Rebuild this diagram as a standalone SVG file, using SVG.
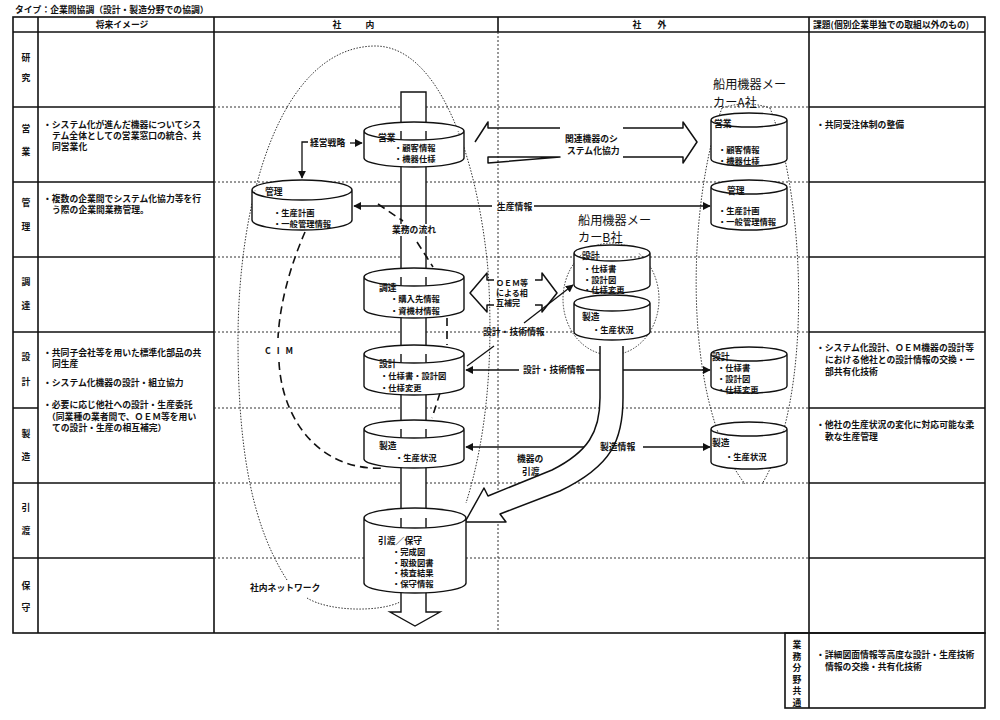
<svg xmlns="http://www.w3.org/2000/svg" width="1000" height="720" viewBox="0 0 1000 720">
<defs>
<style>
text{font-family:"Noto Sans CJK JP","Noto Sans CJK SC",sans-serif;font-size:8.8px;font-weight:bold;fill:#111}
.big{font-size:12.2px;font-weight:normal}
.sm{font-size:8px}
.cs{font-size:8.3px}
.mid{text-anchor:middle}
.frame{fill:none;stroke:#111;stroke-width:1.6}
.dot{fill:none;stroke:#333;stroke-width:1;stroke-dasharray:2 2}
.cyl{fill:#fff;stroke:#111;stroke-width:1.4}
.cim{fill:none;stroke:#111;stroke-width:1.6;stroke-dasharray:8 5}
.net{fill:none;stroke:#333;stroke-width:1;stroke-dasharray:1.5 1.5}
.line{fill:none;stroke:#111;stroke-width:1.3}
.hollow{fill:none;stroke:#111;stroke-width:1.5;stroke-linejoin:round}
</style>
<marker id="ah" viewBox="0 0 10 10" refX="9" refY="5" markerWidth="6" markerHeight="6" orient="auto-start-reverse"><path d="M0,0 L10,5 L0,10 z" fill="#111"/></marker>
</defs>
<rect width="1000" height="720" fill="#fff"/>

<g id="table">
<text x="15" y="13">タイプ：企業間協調（設計・製造分野での協調）</text>
<rect class="frame" x="13" y="17" width="972" height="616"/>
<line class="frame" x1="13" y1="32" x2="985" y2="32"/>
<line class="frame" x1="38" y1="17" x2="38" y2="633"/>
<line class="frame" x1="214" y1="17" x2="214" y2="633"/>
<line class="frame" x1="498" y1="17" x2="498" y2="32"/>
<line class="frame" x1="809" y1="17" x2="809" y2="633"/>
<line class="dot" x1="498" y1="32" x2="498" y2="633"/>
<path class="frame" d="M13,107H214M809,107H985M13,182H214M809,182H985M13,257H214M809,257H985M13,332H214M809,332H985M13,408H38M809,408H985M13,483H214M809,483H985M13,558H214M809,558H985"/>
<path class="dot" d="M214,107H809M214,182H809M214,257H809M214,332H809M214,408H809M214,483H809M214,558H809"/>
<rect class="frame" x="785" y="633" width="200" height="75"/>
<line class="frame" x1="809" y1="633" x2="809" y2="708"/>
<text x="122" y="28" class="mid">将来イメージ</text>
<text x="337" y="28" class="mid">社</text><text x="370" y="28" class="mid">内</text>
<text x="637" y="28" class="mid">社</text><text x="662" y="28" class="mid">外</text>
<text x="813" y="28">課題(個別企業単独での取組以外のもの)</text>
<g class="rowlabels">
<text x="26" y="61" class="mid">研</text><text x="26" y="81" class="mid">究</text>
<text x="26" y="132" class="mid">営</text><text x="26" y="155" class="mid">業</text>
<text x="26" y="206" class="mid">管</text><text x="26" y="230" class="mid">理</text>
<text x="26" y="285" class="mid">調</text><text x="26" y="309" class="mid">達</text>
<text x="26" y="360" class="mid">設</text><text x="26" y="385" class="mid">計</text>
<text x="26" y="437" class="mid">製</text><text x="26" y="460" class="mid">造</text>
<text x="26" y="511" class="mid">引</text><text x="26" y="534" class="mid">渡</text>
<text x="26" y="589" class="mid">保</text><text x="26" y="611" class="mid">守</text>
</g>
<g class="future">
<text x="43" y="128">・システム化が進んだ機器についてシス</text>
<text x="52" y="139">テム全体としての営業窓口の統合、共</text>
<text x="52" y="150">同営業化</text>
<text x="43" y="202">・複数の企業間でシステム化協力等を行</text>
<text x="52" y="213">う際の企業間業務管理。</text>
<text x="43" y="356">・共同子会社等を用いた標準化部品の共</text>
<text x="52" y="367">同生産</text>
<text x="43" y="386">・システム化機器の設計・組立協力</text>
<text x="43" y="408">・必要に応じ他社への設計・生産委託</text>
<text x="47" y="420">（同業種の業者間で、ＯＥＭ等を用い</text>
<text x="52" y="431">ての設計・生産の相互補完）</text>
</g>
<g class="issues">
<text x="816" y="128">・共同受注体制の整備</text>
<text x="816" y="351">・システム化設計、ＯＥＭ機器の設計等</text>
<text x="825" y="363">における他社との設計情報の交換・一</text>
<text x="825" y="375">部共有化技術</text>
<text x="816" y="428">・他社の生産状況の変化に対応可能な柔</text>
<text x="825" y="440">軟な生産管理</text>
<text x="797" y="648" class="mid">業</text><text x="797" y="659.5" class="mid">務</text><text x="797" y="671" class="mid">分</text>
<text x="797" y="682.5" class="mid">野</text><text x="797" y="694" class="mid">共</text><text x="797" y="705.5" class="mid">通</text>
<text x="816" y="658">・詳細図面情報等高度な設計・生産技術</text>
<text x="825" y="670">情報の交換・共有化技術</text>
</g>
</g>

<g id="bar">
<path class="cyl" d="M401,92 L426,92 L426,612 L440,612 L415,626 L390,612 L401,612 Z"/>
</g>

<g id="connectors">
<path class="net" d="M287,580 C255,530 238,460 238,340 C238,200 280,47 375,46 C440,46 478,160 488,270 C494,360 486,440 466,503"/>
<path class="net" d="M307,598 C330,612 380,612 400,602"/>
<path class="cim" d="M305,232 C292,262 280,300 278,338 M279,362 C282,420 320,472 385,468"/>
<path class="cim" d="M378,204 L403,221 M417,242 L433,267 M447,318 L447,345 M440,393 L432,418"/>
<path class="net" d="M722,108 Q746,100 770,108 M722,108 C688,200 680,400 745,484 M770,108 C806,200 813,400 762,484"/>
<ellipse class="net" cx="611" cy="299" rx="48" ry="56"/>
<path class="line" d="M350,143 L362,143" marker-end="url(#ah)"/>
<path class="line" d="M308,142 L302,142 L302,178" marker-end="url(#ah)"/>
<path class="line" d="M492,206 L354,206" marker-end="url(#ah)"/>
<path class="line" d="M534,206 L710,206" marker-end="url(#ah)"/>
<path class="line" d="M519,370 L466,370" marker-end="url(#ah)"/>
<path class="line" d="M586,370 L710,370" marker-end="url(#ah)"/>
<path class="line" d="M467,366 L494,346"/>
<path class="line" d="M524,323 L573,285" marker-end="url(#ah)"/>
<path class="line" d="M597,447 L466,447" marker-end="url(#ah)"/>
<path class="line" d="M643,447 L710,447" marker-end="url(#ah)"/>
<path class="hollow" d="M475,142 L488,122 L488,128 L560,128 M623,128 L683,128 L683,122 L697,142 L683,163 L683,157 L623,157 M560,157 L488,157 L488,163 Z"/>
<path class="hollow" d="M494,280 L487,280 L487,273 L470,293 L487,312 L487,305 L494,305 M535,280 L542,280 L542,273 L557,293 L542,312 L542,305 L535,305"/>
<path class="hollow" style="fill:#fff" d="M600,346 L600,398 C600,432 588,452 552,470 L488,496 L484,488 L465,522 L506,522 L500,514 L560,491 C612,466 623,440 623,398 L623,346"/>
<text x="497" y="210">生産情報</text>
<text x="523" y="373">設計・技術情報</text>
<text x="483" y="335">設計・技術情報</text>
<text x="600" y="450">製造情報</text>
<text x="565" y="142">関連機器のシ</text>
<text x="567" y="154">ステム化協力</text>
<text x="496" y="286" class="sm">ＯＥＭ等</text>
<text x="496" y="296" class="sm">による相</text>
<text x="496" y="306" class="sm">互補完</text>
<text x="517" y="462">機器の</text>
<text x="522" y="475">引渡</text>
<text x="310" y="146">経営戦略</text>
<rect x="391" y="224" width="47" height="12" fill="#fff"/>
<text x="392" y="233">業務の流れ</text>
<text x="280" y="354" class="mid" style="letter-spacing:2px">C I M</text>
<text x="250" y="591">社内ネットワーク</text>
</g>

<g id="n-eigyo">
<path class="cyl" d="M364,131 A50,9 0 0 1 464,131 L464,158 A50,9 0 0 1 364,158 Z M364,131 A50,9 0 0 0 464,131"/>
<text x="378" y="141">営業</text><text x="394" y="150.5" class="cs">・顧客情報</text><text x="394" y="162" class="cs">・機器仕様</text>
</g>
<g id="n-kanri">
<path class="cyl" d="M252,190 A50,10 0 0 1 352,190 L352,220 A50,10 0 0 1 252,220 Z M252,190 A50,10 0 0 0 352,190"/>
<text x="265" y="195">管理</text><text x="273" y="215.5" class="cs">・生産計画</text><text x="273" y="227" class="cs">・一般管理情報</text>
</g>
<g id="n-chotatsu">
<path class="cyl" d="M364,277 A50,9 0 0 1 464,277 L464,309 A50,9 0 0 1 364,309 Z M364,277 A50,9 0 0 0 464,277"/>
<text x="379" y="291">調達</text><text x="390" y="302" class="cs">・購入先情報</text><text x="390" y="313.5" class="cs">・資機材情報</text>
</g>
<g id="n-sekkei">
<path class="cyl" d="M364,354 A50,9 0 0 1 464,354 L464,386 A50,9 0 0 1 364,386 Z M364,354 A50,9 0 0 0 464,354"/>
<text x="379" y="367">設計</text><text x="380" y="379" class="cs">・仕様書・設計図</text><text x="380" y="390.5" class="cs">・仕様変更</text>
</g>
<g id="n-seizo">
<path class="cyl" d="M364,429 A50,9 0 0 1 464,429 L464,459 A50,9 0 0 1 364,459 Z M364,429 A50,9 0 0 0 464,429"/>
<text x="379" y="449">製造</text><text x="395" y="460.5" class="cs">・生産状況</text>
</g>
<g id="n-hikiwatashi">
<path class="cyl" d="M364,518 A51,10 0 0 1 466,518 L466,583 A51,10 0 0 1 364,583 Z M364,518 A51,10 0 0 0 466,518"/>
<text x="378" y="544">引渡／保守</text><text x="392" y="555" class="cs">・完成図</text><text x="392" y="565.5" class="cs">・取扱図書</text><text x="392" y="576" class="cs">・検査結果</text><text x="392" y="586.5" class="cs">・保守情報</text>
</g>

<g id="companyA">
<text x="713" y="89" class="big">船用機器メー</text>
<text x="713" y="107" class="big">カーA社</text>
<path class="cyl" d="M711,120 A38,7 0 0 1 787,120 L787,159 A38,7 0 0 1 711,159 Z M711,120 A38,7 0 0 0 787,120"/>
<text x="714" y="127">営業</text><text x="718" y="152.5" class="cs">・顧客情報</text><text x="718" y="164" class="cs">・機器仕様</text>
<path class="cyl" d="M711,187 A38,7 0 0 1 787,187 L787,223 A38,7 0 0 1 711,223 Z M711,187 A38,7 0 0 0 787,187"/>
<text x="727" y="194">管理</text><text x="718" y="213.5" class="cs">・生産計画</text><text x="718" y="225" class="cs">・一般管理情報</text>
<path class="cyl" d="M711,354 A38,7 0 0 1 787,354 L787,386 A38,7 0 0 1 711,386 Z M711,354 A38,7 0 0 0 787,354"/>
<text x="712" y="360">設計</text><text x="717" y="371" class="cs">・仕様書</text><text x="717" y="382" class="cs">・設計図</text><text x="717" y="393" class="cs">・仕様変更</text>
<path class="cyl" d="M711,429 A38,7 0 0 1 787,429 L787,462 A38,7 0 0 1 711,462 Z M711,429 A38,7 0 0 0 787,429"/>
<text x="712" y="446">製造</text><text x="725" y="460" class="cs">・生産状況</text>
</g>

<g id="companyB">
<text x="578" y="225" class="big">船用機器メー</text>
<text x="578" y="242" class="big">カーB社</text>
<path class="cyl" d="M574,253 A38,8 0 0 1 650,253 L650,285 A38,8 0 0 1 574,285 Z M574,253 A38,8 0 0 0 650,253"/>
<text x="582" y="259">設計</text><text x="583" y="272" class="cs">・仕様書</text><text x="583" y="282.5" class="cs">・設計図</text><text x="583" y="293" class="cs">・仕様変更</text>
<path class="cyl" d="M574,303 A38,8 0 0 1 650,303 L650,332 A38,8 0 0 1 574,332 Z M574,303 A38,8 0 0 0 650,303"/>
<text x="582" y="320">製造</text><text x="592" y="333" class="cs">・生産状況</text>
</g>
</svg>
